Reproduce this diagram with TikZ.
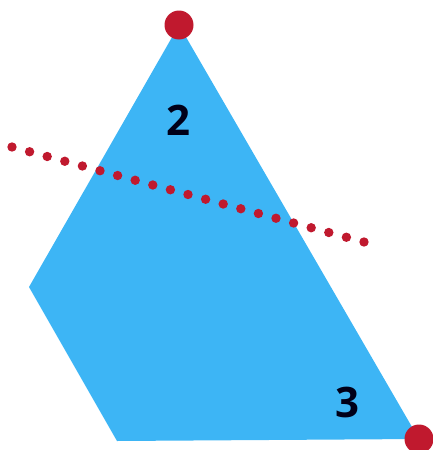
\documentclass[tikz,border=0pt]{standalone}
\usepackage{fontspec}
\setmainfont{Open Sans}
\usetikzlibrary{calc}
\definecolor{polyblue}{RGB}{61,181,245}
\definecolor{dotred}{RGB}{192,25,46}
\begin{document}
\begin{tikzpicture}[x=1pt,y=-1pt,
  vdot/.style={circle,fill=dotred,inner sep=0pt,minimum size=29pt},
  lab/.style={font=\fontsize{42}{42}\selectfont\bfseries,text=black!90!blue}]
\useasboundingbox (0,0) rectangle (432,450);
\coordinate (A) at (179,25);
\coordinate (B) at (419,439);
\coordinate (C) at (117,441);
\coordinate (D) at (29,287);
\fill[polyblue] (A) -- (B) -- (C) -- (D) -- cycle;
\coordinate (L1) at (12,147);
\coordinate (L2) at (364,242);
\foreach \i in {0,...,20} {
  \fill[dotred] ($(L1)!\i/20!(L2)$) circle (4.7);
}
\node[vdot] (top) at (A) {};
\node[vdot] (br) at (B) {};
\node[lab] (n2) at (178,120) {2};
\node[lab] (n3) at (347,402) {3};
\end{tikzpicture}
\end{document}
